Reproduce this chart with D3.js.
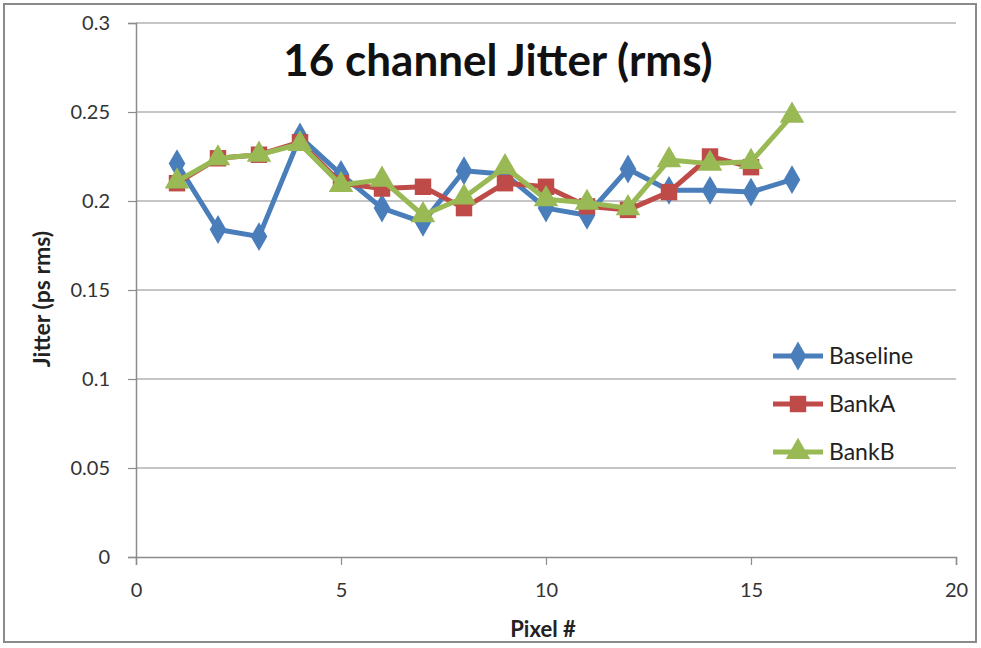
<!DOCTYPE html>
<html>
<head>
<meta charset="utf-8">
<script src="https://cdn.jsdelivr.net/npm/d3@7"></script>
<style>
  body { margin: 0; background: #fff; }
  text { font-family: Lato, "Open Sans", sans-serif; }
</style>
</head>
<body>
<div id="chart"></div>
<script>
// pixel numbers and jitter values
const pixels = [1, 2, 3, 4, 5, 6, 7, 8, 9, 10, 11, 12, 13, 14, 15, 16];
const baseline = [0.221, 0.184, 0.180, 0.236, 0.215, 0.196, 0.188, 0.217, 0.215, 0.196, 0.192, 0.218, 0.206, 0.206, 0.205, 0.212];
const bankA = [0.210, 0.224, 0.226, 0.233, 0.210, 0.207, 0.208, 0.196, 0.210, 0.208, 0.197, 0.195, 0.205, 0.225, 0.219];
const bankB = [0.211, 0.224, 0.226, 0.232, 0.209, 0.212, 0.192, 0.202, 0.219, 0.201, 0.199, 0.196, 0.223, 0.221, 0.222, 0.248];
const xTicks = [0, 5, 10, 15, 20];
const yTicks = [0, 0.05, 0.1, 0.15, 0.2, 0.25, 0.3];

const series = [
  { name: 'Baseline', values: baseline, color: '#4a7ebb', shape: 'diamond' },
  { name: 'BankA', values: bankA, color: '#be4b48', shape: 'square' },
  { name: 'BankB', values: bankB, color: '#98b954', shape: 'triangle' }
];

const width = 981, height = 648;
const svg = d3.select('#chart').append('svg')
    .attr('width', width)
    .attr('height', height);

// outer frame
svg.append('rect')
    .attr('x', 4).attr('y', 4)
    .attr('width', 972).attr('height', 638)
    .attr('fill', 'white')
    .attr('stroke', '#8a8a8a')
    .attr('stroke-width', 2);

const x = d3.scaleLinear().domain([0, 20]).range([136, 956]);
const y = d3.scaleLinear().domain([0, 0.3]).range([557, 23]);

// gridlines
svg.append('g')
  .selectAll('line')
  .data(yTicks.slice(1))
  .enter().append('line')
    .attr('x1', x(0)).attr('x2', x(20))
    .attr('y1', d => y(d)).attr('y2', d => y(d))
    .attr('stroke', '#8c8c8c')
    .attr('stroke-width', 1.2);

// axes
const yAxis = svg.append('g')
    .attr('transform', `translate(${x(0)},0)`)
    .call(d3.axisLeft(y).tickValues(yTicks).tickFormat(d => d3.format('')(+d.toFixed(2))).tickSize(8).tickPadding(18));
const xAxis = svg.append('g')
    .attr('transform', `translate(0,${y(0)})`)
    .call(d3.axisBottom(x).tickValues(xTicks).tickSize(8).tickPadding(18));

[xAxis, yAxis].forEach(g => {
  g.select('.domain').attr('stroke', '#8c8c8c').attr('stroke-width', 1.5);
  g.selectAll('.tick line').attr('stroke', '#8c8c8c').attr('stroke-width', 1.2);
  g.selectAll('.tick text')
    .attr('fill', '#333')
    .style('font-size', '20px')
    .style('font-family', 'Lato, "Open Sans", sans-serif');
});

const symbols = {
  diamond: d3.symbol().type(d3.symbolDiamond).size(240),
  square: d3.symbol().type(d3.symbolSquare).size(270),
  triangle: d3.symbol().type(d3.symbolTriangle).size(260)
};

const line = d3.line()
    .x((d, i) => x(pixels[i]))
    .y(d => y(d));

series.forEach(s => {
  const g = svg.append('g');
  g.append('path')
    .attr('d', line(s.values))
    .attr('fill', 'none')
    .attr('stroke', s.color)
    .attr('stroke-width', 5)
    .attr('stroke-linejoin', 'round');
  g.selectAll('path.mark')
    .data(s.values)
    .enter().append('path')
      .attr('class', 'mark')
      .attr('d', symbols[s.shape])
      .attr('transform', (d, i) => `translate(${x(pixels[i])},${y(d)})`)
      .attr('fill', s.color);
});

// legend
const legend = svg.append('g')
  .selectAll('g')
  .data(series)
  .enter().append('g')
    .attr('transform', (d, i) => `translate(773,${356 + i * 48})`);
legend.append('line')
    .attr('x1', 0).attr('x2', 50)
    .attr('stroke', d => d.color)
    .attr('stroke-width', 5);
legend.append('path')
    .attr('d', d => symbols[d.shape]())
    .attr('transform', 'translate(25,0)')
    .attr('fill', d => d.color);
legend.append('text')
    .attr('x', 56)
    .attr('y', 8)
    .attr('fill', '#222')
    .style('font-size', '23px')
    .text(d => d.name);

// title and axis labels
svg.append('text')
    .attr('x', 498).attr('y', 76)
    .attr('text-anchor', 'middle')
    .style('font-size', '44px')
    .style('font-weight', 'bold')
    .attr('fill', '#111')
    .text('16 channel Jitter (rms)');

svg.append('text')
    .attr('transform', 'translate(50,299) rotate(-90)')
    .attr('text-anchor', 'middle')
    .style('font-size', '23px')
    .style('font-weight', 'bold')
    .attr('fill', '#222')
    .text('Jitter (ps rms)');

svg.append('text')
    .attr('x', 543).attr('y', 637)
    .attr('text-anchor', 'middle')
    .style('font-size', '22px')
    .style('font-weight', 'bold')
    .attr('fill', '#222')
    .text('Pixel #');
</script>
</body>
</html>
